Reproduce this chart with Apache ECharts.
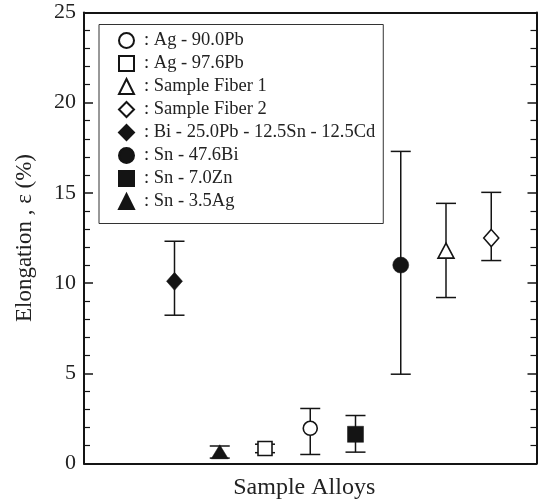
<!DOCTYPE html>
<html>
<head>
<meta charset="utf-8">
<style>
  html, body { margin: 0; padding: 0; background: #fff; }
  #chart { width: 538px; height: 499px; }
</style>
<script src="https://cdn.jsdelivr.net/npm/echarts@6/dist/echarts.min.js"></script>
</head>
<body>
<div id="chart"></div>
<script>
// ---- data ----
const alloyNames = [
  'Ag - 90.0Pb',
  'Ag - 97.6Pb',
  'Sample Fiber 1',
  'Sample Fiber 2',
  'Bi - 25.0Pb - 12.5Sn - 12.5Cd',
  'Sn - 47.6Bi',
  'Sn - 7.0Zn',
  'Sn - 3.5Ag'
];
const xPos      = [5, 4, 8, 9, 2, 7, 6, 3];
const meanElong = [1.95, 0.83, 11.8, 12.5, 10.1, 11.0, 1.62, 0.65];
const errLow    = [0.5, 0.6, 9.2, 11.25, 8.22, 4.95, 0.63, 0.3];
const errHigh   = [3.05, 1.07, 14.42, 15.03, 12.32, 17.3, 2.66, 0.97];
const symbols   = ['circle', 'rect', 'triangle', 'diamond', 'diamond', 'circle', 'rect', 'triangle'];
const filled    = [false, false, false, false, true, true, true, true];
const symSizes  = [14, 14, [16, 15], [15, 17], [16, 18], 16, 16, [17, 14]];
const yTicks    = [0, 5, 10, 15, 20, 25];

const FONT = '"Liberation Serif", "DejaVu Serif", serif';
const INK = '#141414';

const scatterSeries = alloyNames.map((name, i) => ({
  name: name,
  type: 'scatter',
  z: 5,
  symbol: symbols[i],
  symbolSize: symSizes[i],
  itemStyle: filled[i]
    ? { color: INK, borderColor: INK, borderWidth: 0.5, opacity: 1 }
    : { color: '#fff', borderColor: INK, borderWidth: 1.6, opacity: 1 },
  emphasis: { disabled: true },
  data: [[xPos[i], meanElong[i]]]
}));

const errData = alloyNames.map((n, i) => [xPos[i], errLow[i], errHigh[i]]);

const errSeries = {
  type: 'custom',
  name: 'errorbars',
  z: 2,
  silent: true,
  data: errData,
  encode: { x: 0, y: [1, 2] },
  renderItem: function (params, api) {
    const x = api.value(0);
    const lo = api.coord([x, api.value(1)]);
    const hi = api.coord([x, api.value(2)]);
    const hw = 10;
    const st = { stroke: INK, lineWidth: 1.5 };
    return {
      type: 'group',
      children: [
        { type: 'line', shape: { x1: lo[0], y1: lo[1], x2: hi[0], y2: hi[1] }, style: st },
        { type: 'line', shape: { x1: lo[0] - hw, y1: lo[1], x2: lo[0] + hw, y2: lo[1] }, style: st },
        { type: 'line', shape: { x1: hi[0] - hw, y1: hi[1], x2: hi[0] + hw, y2: hi[1] }, style: st }
      ]
    };
  }
};

const chart = echarts.init(document.getElementById('chart'), null, { renderer: 'canvas' });

const axisLineStyle = { show: true, onZero: false, lineStyle: { color: INK, width: 2 } };

chart.setOption({
  backgroundColor: '#fff',
  animation: false,
  textStyle: { fontFamily: FONT },
  grid: { left: 84, right: 1.5, top: 12.5, bottom: 35.5, containLabel: false, outerBoundsMode: 'none' },
  legend: {
    orient: 'vertical',
    left: 99,
    top: 24.5,
    padding: [6.5, 8, 12.5, 19],
    itemGap: 4,
    itemWidth: 15,
    itemHeight: 15,
    borderColor: '#333',
    borderWidth: 1,
    selectedMode: false,
    data: alloyNames,
    formatter: function (n) { return ': ' + n; },
    textStyle: { fontFamily: FONT, fontSize: 18.5, color: '#222', lineHeight: 18, padding: [0, 0, 0, 5] }
  },
  xAxis: [
    {
      type: 'value', min: 0, max: 10, position: 'bottom',
      axisLine: axisLineStyle, axisTick: { show: false }, axisLabel: { show: false },
      splitLine: { show: false },
      name: 'Sample Alloys', nameLocation: 'middle', nameGap: 12,
      nameTextStyle: { fontFamily: FONT, fontSize: 24, color: '#222', padding: [0, 12, 0, 0] }
    },
    {
      type: 'value', min: 0, max: 10, position: 'top',
      axisLine: axisLineStyle, axisTick: { show: false }, axisLabel: { show: false },
      splitLine: { show: false }
    }
  ],
  yAxis: [
    {
      type: 'value', min: yTicks[0], max: yTicks[yTicks.length - 1], interval: 5, position: 'left',
      axisLine: axisLineStyle,
      axisTick: { show: true, inside: true, length: 9, lineStyle: { color: INK, width: 1.5 } },
      minorTick: { show: true, splitNumber: 5, length: 6, lineStyle: { color: INK, width: 1.2 } },
      axisLabel: { fontFamily: FONT, fontSize: 22, color: '#222', margin: 8 },
      splitLine: { show: false },
      name: 'Elongation , ε (%)', nameLocation: 'middle', nameGap: 48,
      nameTextStyle: { fontFamily: FONT, fontSize: 23, color: '#222' }
    },
    {
      type: 'value', min: yTicks[0], max: yTicks[yTicks.length - 1], interval: 5, position: 'right',
      axisLine: axisLineStyle,
      axisTick: { show: true, inside: true, length: 9, lineStyle: { color: INK, width: 1.5 } },
      minorTick: { show: true, splitNumber: 5, length: 6, lineStyle: { color: INK, width: 1.2 } },
      axisLabel: { show: false },
      splitLine: { show: false }
    }
  ],
  series: [errSeries].concat(scatterSeries)
});
</script>
</body>
</html>
